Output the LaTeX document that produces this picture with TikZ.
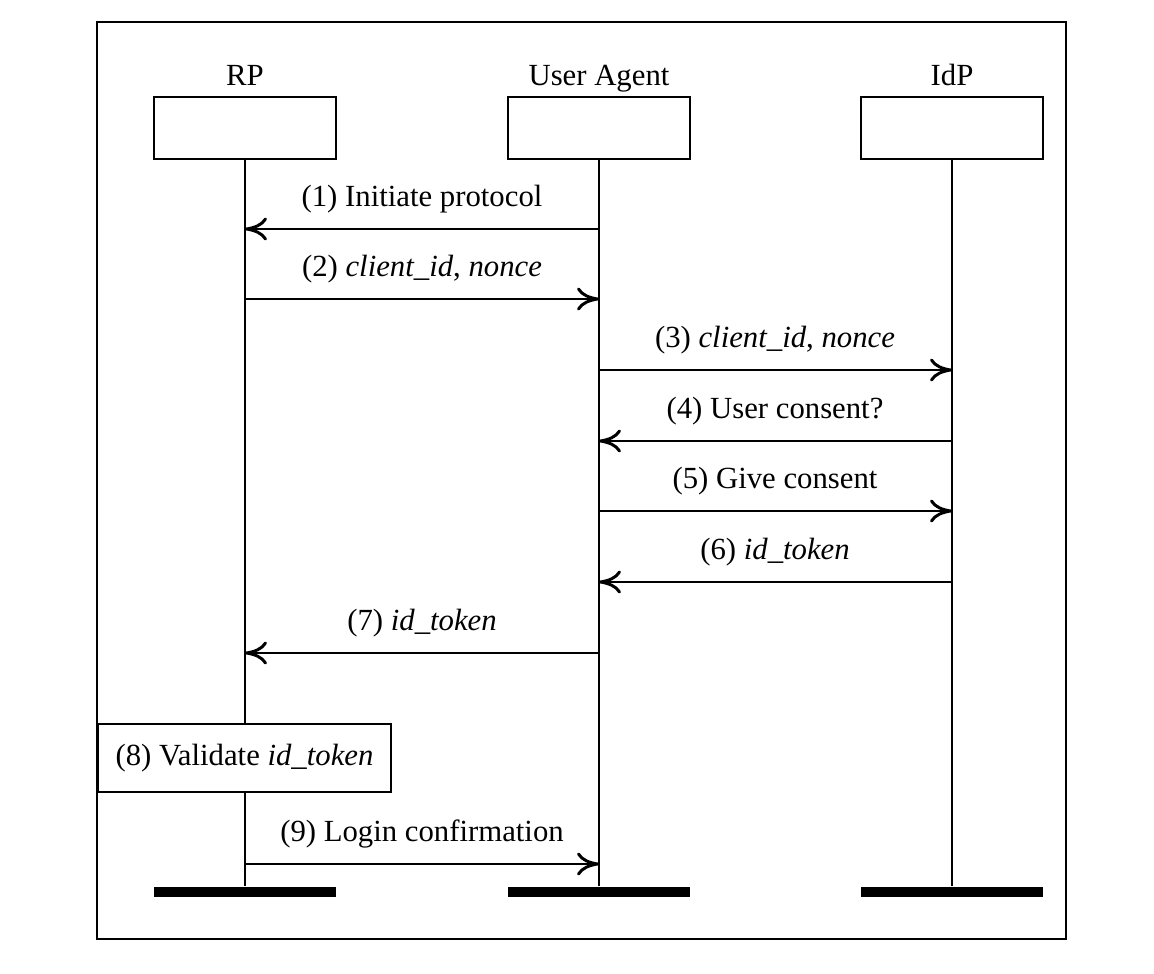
\documentclass[tikz,border=0pt]{standalone}
\usepackage{fontspec}
\setmainfont{Liberation Serif}
\usetikzlibrary{arrows.meta}
\begin{document}
\begin{tikzpicture}[x=0.02cm,y=-0.02cm,
  font=\fontsize{17.5}{21}\selectfont, line width=1.2pt,
  head/.style={draw, line width=1.4pt, minimum width=3.64cm, minimum height=1.24cm, inner sep=0pt},
  endbar/.style={fill=black, minimum width=3.64cm, minimum height=0.2cm, inner sep=0pt},
  msg/.style={-{Computer Modern Rightarrow[length=4.4mm,width=4.6mm,line width=1.7pt]}},
  lbl/.style={anchor=base},
  actbox/.style={draw, fill=white, line width=1.4pt, minimum width=5.86cm, minimum height=1.36cm, inner sep=0pt}]
\useasboundingbox (0,0) rectangle (1154,974);
\draw[line width=1.5pt] (97,22) rectangle (1066,939);
% heads
\node[head] (rp) at (245,128) {};
\node[head] (ua) at (599,128) {};
\node[head] (idp) at (952,128) {};
\node[lbl] (rpname) at (245,85) {RP};
\node[lbl] (uaname) at (599,85) {User Agent};
\node[lbl] (idpname) at (952,85) {IdP};
% end bars
\node[endbar] (rpend) at (245,892) {};
\node[endbar] (uaend) at (599,892) {};
\node[endbar] (idpend) at (952,892) {};
% lifelines
\draw (rp.south) -- (rpend.north);
\draw (ua.south) -- (uaend.north);
\draw (idp.south) -- (idpend.north);
% messages
\draw[msg] (ua |- 0,229) -- (rp |- 0,229);
\node[lbl] (l1) at (422,206) {(1) Initiate protocol};
\draw[msg] (rp |- 0,299) -- (ua |- 0,299);
\node[lbl] (l2) at (422,276) {(2) \textit{client\_id}, \textit{nonce}};
\draw[msg] (ua |- 0,370) -- (idp |- 0,370);
\node[lbl] (l3) at (775,347) {(3) \textit{client\_id}, \textit{nonce}};
\draw[msg] (idp |- 0,441) -- (ua |- 0,441);
\node[lbl] (l4) at (775,418) {(4) User consent?};
\draw[msg] (ua |- 0,511) -- (idp |- 0,511);
\node[lbl] (l5) at (775,488) {(5) Give consent};
\draw[msg] (idp |- 0,582) -- (ua |- 0,582);
\node[lbl] (l6) at (775,559) {(6) \textit{id\_token}};
\draw[msg] (ua |- 0,653) -- (rp |- 0,653);
\node[lbl] (l7) at (422,630) {(7) \textit{id\_token}};
% validate box
\node[actbox] (val) at (244.5,758) {(8) Validate \textit{id\_token}};
\draw[msg] (rp |- 0,864) -- (ua |- 0,864);
\node[lbl] (l9) at (422,841) {(9) Login confirmation};
\end{tikzpicture}
\end{document}
